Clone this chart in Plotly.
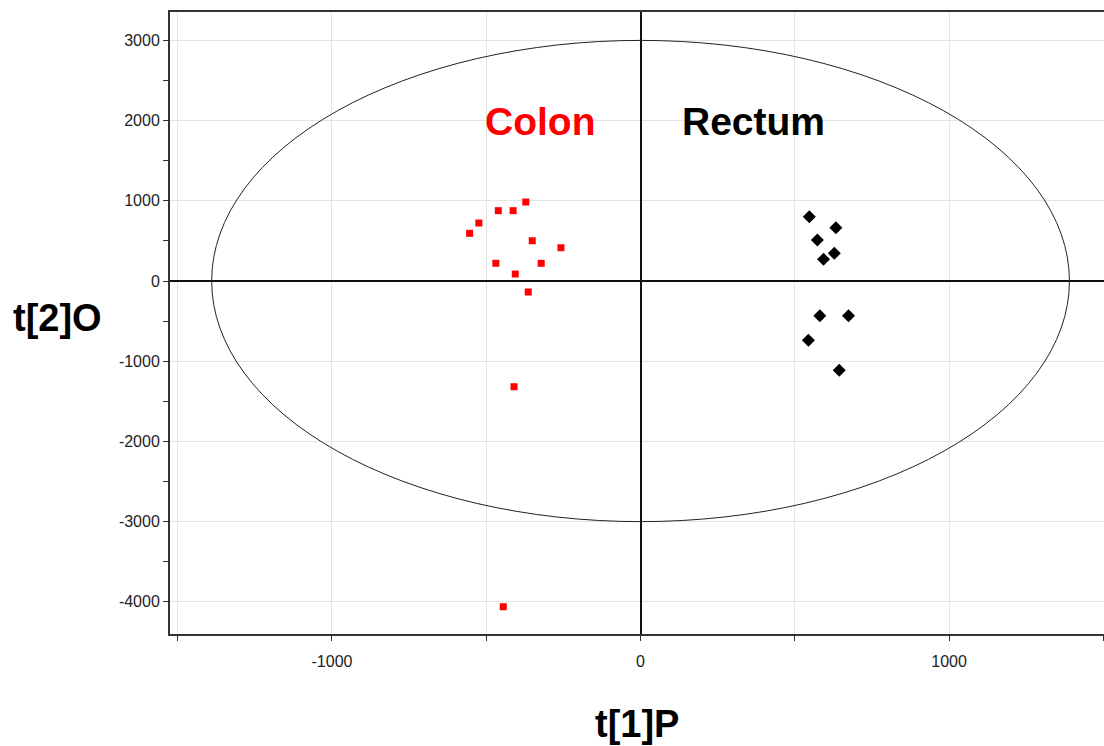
import plotly.graph_objects as go

# Colon scores (t[1]P, t[2]O)
colon_t1 = [-554, -524, -461, -413, -372, -351, -258, -469, -322, -406, -364, -410, -445]
colon_t2 = [595, 723, 877, 877, 985, 502, 415, 221, 221, 87, -137, -1318, -4061]

# Rectum scores
rectum_t1 = [547, 633, 573, 628, 593, 581, 674, 544, 644]
rectum_t2 = [802, 665, 511, 345, 270, -433, -433, -740, -1114]

# Hotelling ellipse semi-axes
ellipse_a = 1390
ellipse_b = 3000

x_range = [-1525, 1502]
y_range = [-4401, 3354]

x_tickvals = [-1000, 0, 1000]
x_ticktext = ["-1000", "0", "1000"]
y_tickvals = [-4000, -3000, -2000, -1000, 0, 1000, 2000, 3000]
y_ticktext = ["-4000", "-3000", "-2000", "-1000", "0", "1000", "2000", "3000"]

fig = go.Figure()

fig.add_shape(type="circle", xref="x", yref="y",
              x0=-ellipse_a, x1=ellipse_a, y0=-ellipse_b, y1=ellipse_b,
              line=dict(color="#222222", width=1))

fig.add_trace(go.Scatter(x=colon_t1, y=colon_t2, mode="markers", name="Colon",
                         marker=dict(symbol="square", size=7, color="#ff0000",
                                     line=dict(width=0))))
fig.add_trace(go.Scatter(x=rectum_t1, y=rectum_t2, mode="markers", name="Rectum",
                         marker=dict(symbol="diamond", size=10, color="#000000",
                                     line=dict(width=0))))

tickfont = dict(family="Liberation Sans Narrow, Arial Narrow, Liberation Sans, Arial", size=16, color="#222222")

fig.update_xaxes(range=x_range, tickmode="array", tickvals=x_tickvals, ticktext=x_ticktext,
                 showgrid=True, gridcolor="#e4e4e4", gridwidth=1,
                 zeroline=True, zerolinecolor="#111111", zerolinewidth=1.5,
                 showline=True, linecolor="#333333", linewidth=2, mirror=True,
                 ticks="outside", ticklen=5, tickcolor="#333333", tickfont=tickfont,
                 ticklabelstandoff=7,
                 minor=dict(dtick=500, tick0=0, showgrid=True, gridcolor="#e4e4e4",
                            ticks="outside", ticklen=5, tickcolor="#333333"))
fig.update_yaxes(range=y_range, tickmode="array", tickvals=y_tickvals, ticktext=y_ticktext,
                 showgrid=True, gridcolor="#e4e4e4", gridwidth=1,
                 zeroline=True, zerolinecolor="#111111", zerolinewidth=1.5,
                 showline=True, linecolor="#333333", linewidth=2,
                 ticks="outside", ticklen=5, tickcolor="#333333", tickfont=tickfont,
                 minor=dict(dtick=500, tick0=0, showgrid=False,
                            ticks="outside", ticklen=5, tickcolor="#333333"))

bold = dict(family="Liberation Sans, Arial", size=39)
fig.add_annotation(x=-326, y=1983, xref="x", yref="y", text="<b>Colon</b>", showarrow=False,
                   xanchor="center", yanchor="middle", font=dict(bold, color="#ff0000"))
fig.add_annotation(x=365, y=1983, xref="x", yref="y", text="<b>Rectum</b>", showarrow=False,
                   xanchor="center", yanchor="middle", font=dict(bold, color="#000000"))
fig.add_annotation(x=-0.12, y=0.508, xref="paper", yref="paper", text="<b>t[2]O</b>", showarrow=False,
                   xanchor="center", yanchor="middle",
                   font=dict(family="Liberation Sans, Arial", size=38, color="#000000"))
fig.add_annotation(x=0.5, y=-0.1445, xref="paper", yref="paper", text="<b>t[1]P</b>", showarrow=False,
                   xanchor="center", yanchor="middle",
                   font=dict(family="Liberation Sans, Arial", size=38, color="#000000"))

fig.update_layout(width=1104, height=746, margin=dict(l=170, r=0, t=12, b=112),
                  plot_bgcolor="white", paper_bgcolor="white", showlegend=False)

fig.write_html("out.html")
